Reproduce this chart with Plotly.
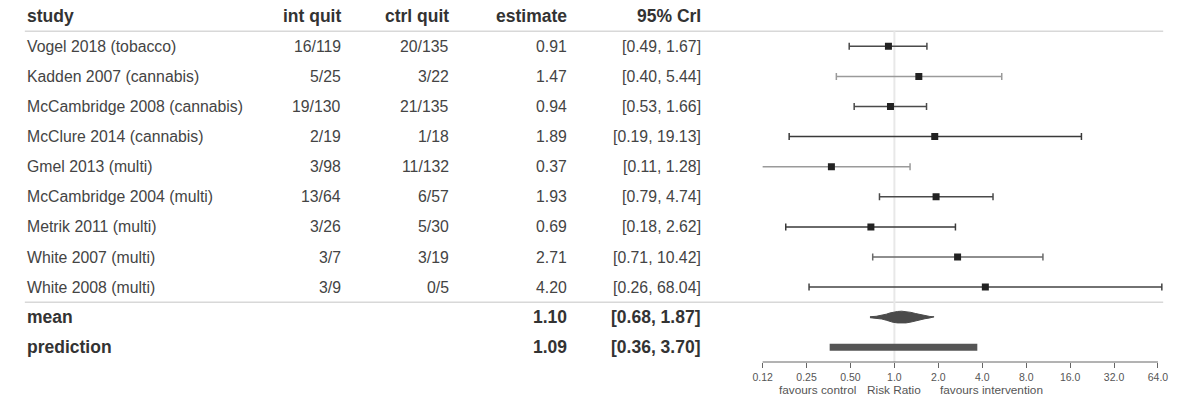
import math
import plotly.graph_objects as go

# ---------------- data ----------------
studies = ["Vogel 2018 (tobacco)", "Kadden 2007 (cannabis)", "McCambridge 2008 (cannabis)",
           "McClure 2014 (cannabis)", "Gmel 2013 (multi)", "McCambridge 2004 (multi)",
           "Metrik 2011 (multi)", "White 2007 (multi)", "White 2008 (multi)"]
int_quit = ["16/119", "5/25", "19/130", "2/19", "3/98", "13/64", "3/26", "3/7", "3/9"]
ctrl_quit = ["20/135", "3/22", "21/135", "1/18", "11/132", "6/57", "5/30", "3/19", "0/5"]
estimate = [0.91, 1.47, 0.94, 1.89, 0.37, 1.93, 0.69, 2.71, 4.20]
lower = [0.49, 0.40, 0.53, 0.19, 0.11, 0.79, 0.18, 0.71, 0.26]
upper = [1.67, 5.44, 1.66, 19.13, 1.28, 4.74, 2.62, 10.42, 68.04]

mean_est, mean_lo, mean_hi = 1.10, 0.68, 1.87
pred_est, pred_lo, pred_hi = 1.09, 0.36, 3.70

# posterior shape of the mean (relative half-heights)
mean_density_x = [0.68, 0.75, 0.82, 0.88, 0.93, 0.98, 1.05, 1.12, 1.20, 1.30, 1.40, 1.50, 1.62, 1.75, 1.87]
mean_density_h = [0.08, 0.15, 0.3, 0.5, 0.7, 0.85, 0.95, 1.0, 0.95, 0.8, 0.6, 0.4, 0.25, 0.12, 0.06]

tick_vals = [0.125, 0.25, 0.5, 1, 2, 4, 8, 16, 32, 64]
tick_text = ["0.12", "0.25", "0.50", "1.0", "2.0", "4.0", "8.0", "16.0", "32.0", "64.0"]

headers = ["study", "int quit", "ctrl quit", "estimate", "95% CrI"]

# ---------------- styles ----------------
W, H = 1183, 401
PLOT_BOTTOM = 362          # pixel y of the x axis
ROW0, ROWH = 46.3, 30.1    # pixel y of first row, row height
whisker_colors = ["#4a4a4a", "#9a9a9a", "#4a4a4a", "#3a3a3a", "#9a9a9a",
                  "#4a4a4a", "#3a3a3a", "#6a6a6a", "#444444"]
X_LO_PX, X_HI_PX = 762.3, 1162.7
FONT = "Liberation Sans, Arial, sans-serif"

px_per_log2 = (X_HI_PX - X_LO_PX) / (math.log2(64) - math.log2(0.125))
x_max = 70.0
x_max_px = X_LO_PX + px_per_log2 * (math.log2(x_max) - math.log2(0.125))

def py2paper(py):
    return (PLOT_BOTTOM - py) / PLOT_BOTTOM

def row2py(r):
    return ROW0 + ROWH * r

y_top = -ROW0 / ROWH
y_bot = (PLOT_BOTTOM - ROW0) / ROWH

fig = go.Figure()

# study rows
for i in range(len(studies)):
    fig.add_trace(go.Scatter(
        x=[estimate[i]], y=[i], mode="markers",
        marker=dict(symbol="square", size=7, color="#222222"),
        error_x=dict(type="data", symmetric=False,
                     array=[upper[i] - estimate[i]], arrayminus=[estimate[i] - lower[i]],
                     color=whisker_colors[i], thickness=1.5, width=3.5),
        showlegend=False, hoverinfo="skip"))

n = len(studies)
# mean posterior shape
hh = 0.2
xs = mean_density_x + mean_density_x[::-1]
ys = [n + h * hh for h in mean_density_h] + [n - h * hh for h in mean_density_h[::-1]]
fig.add_trace(go.Scatter(x=xs, y=ys, fill="toself", mode="lines",
                         line=dict(color="#4a4a4a", width=1), fillcolor="#4a4a4a",
                         showlegend=False, hoverinfo="skip"))
# prediction interval bar
fig.add_trace(go.Scatter(x=[pred_lo, pred_hi], y=[n + 1, n + 1], mode="lines",
                         line=dict(color="#555555", width=7),
                         showlegend=False, hoverinfo="skip"))

# ---------------- text table ----------------
col_x = [15, 337, 447, 566, 702]
col_anchor = ["left", "right", "right", "right", "right"]
ann = []
for j, h in enumerate(headers):
    ann.append(dict(x=col_x[j] / W, y=-1, xref="paper", yref="y", text="<b>%s</b>" % h,
                    showarrow=False, xanchor=col_anchor[j], yanchor="middle",
                    font=dict(family=FONT, size=17.5, color="#333333")))
for i in range(n):
    vals = [studies[i], int_quit[i], ctrl_quit[i], "%.2f" % estimate[i],
            "[%.2f, %.2f]" % (lower[i], upper[i])]
    for j, v in enumerate(vals):
        ann.append(dict(x=col_x[j] / W, y=i, xref="paper", yref="y", text=v,
                        showarrow=False, xanchor=col_anchor[j], yanchor="middle",
                        font=dict(family=FONT, size=15.8, color="#444444")))
summary = [("mean", mean_est, mean_lo, mean_hi), ("prediction", pred_est, pred_lo, pred_hi)]
for k, (lab, e, lo, hi) in enumerate(summary):
    r = n + k
    for j, v in [(0, lab), (3, "%.2f" % e), (4, "[%.2f, %.2f]" % (lo, hi))]:
        ann.append(dict(x=col_x[j] / W, y=r, xref="paper", yref="y", text="<b>%s</b>" % v,
                        showarrow=False, xanchor=col_anchor[j], yanchor="middle",
                        font=dict(family=FONT, size=17.5, color="#333333")))

# axis captions
cap_y = py2paper(390)
cap_font = dict(family=FONT, size=11.8, color="#555555")
ann.append(dict(x=859 / W, xref="paper", y=cap_y, yref="paper", text="favours control",
                showarrow=False, xanchor="right", yanchor="middle", font=cap_font))
ann.append(dict(x=math.log10(1), xref="x", y=cap_y, yref="paper", text="Risk Ratio",
                showarrow=False, xanchor="center", yanchor="middle", font=cap_font))
ann.append(dict(x=940 / W, xref="paper", y=cap_y, yref="paper", text="favours intervention",
                showarrow=False, xanchor="left", yanchor="middle", font=cap_font))

# ---------------- lines ----------------
shapes = []
line_x0, line_x1 = 15 / W, 1168 / W
for r in (-0.5, n - 0.5):
    yy = py2paper(row2py(r))
    shapes.append(dict(type="line", xref="paper", yref="paper", x0=line_x0, x1=line_x1,
                       y0=yy, y1=yy, line=dict(color="#d8d8d8", width=1.5), layer="below"))
# reference line at 1
shapes.append(dict(type="line", xref="x", yref="paper", x0=1, x1=1,
                   y0=0, y1=py2paper(row2py(-0.5)),
                   line=dict(color="#e8e8e8", width=2), layer="below"))
# axis line
shapes.append(dict(type="line", xref="paper", yref="paper", x0=X_LO_PX / W, x1=X_HI_PX / W,
                   y0=0, y1=0, line=dict(color="#666666", width=1)))

fig.update_layout(
    width=W, height=H,
    margin=dict(l=0, r=0, t=0, b=H - PLOT_BOTTOM),
    paper_bgcolor="white", plot_bgcolor="white",
    annotations=ann, shapes=shapes,
    xaxis=dict(type="log", domain=[X_LO_PX / W, x_max_px / W],
               range=[math.log10(0.125), math.log10(x_max)],
               tickvals=tick_vals, ticktext=tick_text, ticks="outside", ticklen=5,
               tickcolor="#666666", tickwidth=1, showline=False, showgrid=False,
               zeroline=False, tickfont=dict(family=FONT, size=10.5, color="#555555")),
    yaxis=dict(range=[y_bot, y_top], visible=False, showgrid=False, zeroline=False),
    showlegend=False,
)

fig.write_html("out.html", config={"displayModeBar": False},
               post_script="document.body.style.margin='0px';")
